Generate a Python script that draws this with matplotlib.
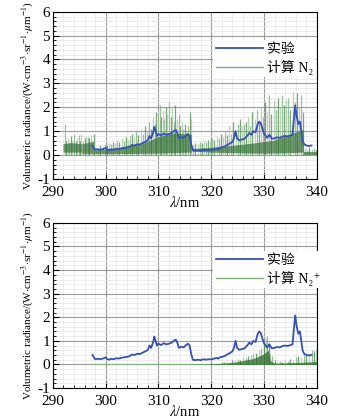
import matplotlib
matplotlib.use("Agg")
import matplotlib.pyplot as plt
from matplotlib.ticker import MultipleLocator
import numpy as np

plt.rcParams["font.family"] = ["Liberation Serif", "Noto Sans CJK SC", "DejaVu Serif"]
plt.rcParams["mathtext.fontset"] = "stix"
plt.rcParams["axes.unicode_minus"] = False

BLUE = "#3451b5"
GREEN_LT = "#7fae7f"
GREEN_MD = "#4d8a4d"
GREEN_DK = "#2a6a2c"

# experimental spectrum (same in both panels)
exp_pts = [
    (297.5, 0.40), (297.7, 0.32), (298.0, 0.22), (298.5, 0.24), (299.0, 0.22),
    (299.5, 0.25), (300.0, 0.30), (300.3, 0.22), (300.7, 0.20), (301.0, 0.24),
    (301.5, 0.22), (302.0, 0.26), (302.5, 0.25), (303.0, 0.28), (303.5, 0.30),
    (304.0, 0.32), (304.5, 0.35), (305.0, 0.42), (305.5, 0.40), (306.0, 0.45),
    (306.5, 0.44), (307.0, 0.50), (307.5, 0.55), (308.0, 0.62), (308.3, 0.80),
    (308.6, 0.70), (309.0, 0.95), (309.2, 1.18), (309.4, 1.05), (309.7, 0.80),
    (310.0, 0.88), (310.5, 0.82), (311.0, 0.90), (311.5, 0.85), (312.0, 0.88),
    (312.5, 0.92), (313.0, 1.02), (313.3, 1.05), (313.6, 0.90), (313.9, 0.70),
    (314.3, 0.75), (314.8, 0.72), (315.2, 0.82), (315.6, 0.88), (315.9, 0.80),
    (316.2, 0.45), (316.5, 0.20), (317.0, 0.18), (317.5, 0.20), (318.0, 0.18),
    (318.5, 0.22), (319.0, 0.20), (319.5, 0.22), (320.0, 0.21), (320.5, 0.24),
    (321.0, 0.28), (321.3, 0.24), (321.6, 0.30), (322.0, 0.32), (322.5, 0.35),
    (323.0, 0.42), (323.5, 0.48), (324.0, 0.55), (324.3, 0.70), (324.6, 1.00),
    (324.9, 0.70), (325.3, 0.62), (325.8, 0.65), (326.3, 0.68), (326.8, 0.80),
    (327.2, 0.92), (327.6, 0.85), (328.0, 1.00), (328.4, 0.95), (328.8, 1.30),
    (329.1, 1.40), (329.4, 1.32), (329.7, 1.10), (330.0, 0.90), (330.3, 0.80),
    (330.6, 0.72), (331.0, 0.85), (331.5, 0.68), (332.0, 0.70), (332.5, 0.74),
    (333.0, 0.72), (333.5, 0.78), (334.0, 0.80), (334.5, 0.78), (335.0, 0.82),
    (335.4, 0.85), (335.7, 1.60), (335.9, 2.08), (336.2, 1.60), (336.5, 1.30),
    (336.8, 1.40), (337.0, 1.10), (337.3, 0.60), (337.6, 0.45), (338.0, 0.40),
    (338.5, 0.38), (339.0, 0.40),
]

# calculated N2 : dense band (x, lower, upper), NaN = gap between bands
n2_band_x = [292.0, 293.5, 295.45, np.nan, 295.55, 297.75, np.nan, 297.85, 300.0,
             303.0, 307.0, 310.0, 313.0, 316.3, np.nan, 316.4, 320.0, 324.0,
             328.0, 332.0, 335.0, 337.5, np.nan, 337.6, 340.0]
n2_band_lo = [0.10, 0.10, 0.10, np.nan, 0.05, 0.05, np.nan, 0.04, 0.04,
              0.04, 0.05, 0.06, 0.08, 0.10, np.nan, 0.15, 0.10, 0.08,
              0.06, 0.06, 0.08, 0.10, np.nan, 0.02, 0.02]
n2_band_hi = [0.45, 0.50, 0.45, np.nan, 0.45, 0.55, np.nan, 0.18, 0.22,
              0.30, 0.45, 0.75, 0.90, 0.85, np.nan, 0.25, 0.30, 0.38,
              0.48, 0.60, 0.85, 1.05, np.nan, 0.12, 0.12]

# calculated N2 : individual lines (wavelength, peak)
n2_lines = [
    (292.2, 1.30), (292.5, 0.60), (292.8, 0.70), (293.1, 0.50), (293.4, 0.80),
    (293.7, 0.60), (294.0, 0.90), (294.3, 0.60), (294.6, 0.70), (294.9, 0.85),
    (295.2, 0.60), (295.4, 0.90),
    (295.7, 0.60), (296.0, 0.70), (296.3, 0.80), (296.6, 0.75), (296.9, 0.70),
    (297.2, 0.85), (297.5, 0.60), (297.7, 0.90),
    (298.2, 0.35), (298.6, 0.30), (299.0, 0.40), (299.4, 0.35), (299.8, 0.45),
    (300.2, 0.40), (300.6, 0.50), (301.0, 0.45), (301.4, 0.55), (301.8, 0.50),
    (302.2, 0.60), (302.6, 0.55), (303.0, 0.70), (303.4, 0.60), (303.8, 0.75),
    (304.2, 0.65), (304.6, 0.80), (305.0, 0.90), (305.4, 0.75), (305.8, 1.00),
    (306.2, 0.85), (306.6, 1.10), (307.0, 0.90), (307.4, 1.20), (307.8, 1.00),
    (308.2, 1.40), (308.6, 1.10), (309.0, 1.60), (309.3, 1.30), (309.6, 1.80),
    (309.9, 1.40), (310.2, 2.10), (310.5, 1.60), (310.8, 1.90), (311.1, 1.50),
    (311.4, 2.00), (311.7, 1.70), (312.0, 2.20), (312.3, 1.60), (312.6, 2.00),
    (312.9, 1.40), (313.2, 2.10), (313.5, 1.50), (313.8, 1.70), (314.1, 1.20),
    (314.4, 1.40), (314.7, 1.10), (315.0, 1.30), (315.3, 1.00), (315.6, 1.20),
    (315.9, 1.80), (316.2, 1.50),
    (316.6, 0.40), (317.0, 0.50), (317.4, 0.45), (317.8, 0.55), (318.2, 0.50),
    (318.6, 0.60), (319.0, 0.55), (319.4, 0.65), (319.8, 0.60), (320.2, 0.70),
    (320.6, 0.65), (321.0, 0.80), (321.4, 0.70), (321.8, 0.90), (322.2, 0.75),
    (322.6, 1.00), (323.0, 0.85), (323.4, 1.20), (323.8, 0.90), (324.2, 1.40),
    (324.6, 1.00), (325.0, 1.30), (325.4, 1.50), (325.8, 1.20), (326.2, 1.30),
    (326.6, 1.40), (327.0, 1.60), (327.4, 1.20), (327.8, 1.80), (328.2, 1.50),
    (328.6, 1.90), (329.0, 1.40), (329.4, 2.00), (329.8, 1.60), (330.2, 2.20),
    (330.6, 1.80), (331.0, 2.50), (331.4, 1.70), (331.8, 2.30), (332.2, 1.90),
    (332.6, 2.40), (333.0, 2.00), (333.4, 2.50), (333.8, 2.10), (334.2, 2.30),
    (334.6, 2.40), (335.0, 1.90), (335.4, 2.70), (335.8, 2.20), (336.2, 2.60),
    (336.6, 2.00), (337.0, 2.50), (337.3, 1.80),
    (337.8, 0.30), (338.2, 0.20), (338.6, 0.35), (339.0, 0.25), (339.4, 0.30),
    (339.8, 0.20),
]

# calculated N2+ : band envelope and individual lines
n2p_band_x = [290.0, 316.0, 320.0, 324.0, 328.0, 330.0, 330.8, 331.2, 332.0, 336.0, 340.0]
n2p_band_hi = [0.0, 0.0, 0.02, 0.08, 0.25, 0.45, 0.60, 0.15, 0.05, 0.08, 0.12]
n2p_lines = [
    (318.0, 0.02), (320.0, 0.04), (321.0, 0.06), (322.0, 0.10), (322.5, 0.12),
    (323.0, 0.15), (323.5, 0.12), (324.0, 0.20), (324.5, 0.18), (325.0, 0.25),
    (325.5, 0.20), (326.0, 0.30), (326.5, 0.28), (327.0, 0.35), (327.5, 0.40),
    (328.0, 0.45), (328.5, 0.50), (329.0, 0.60), (329.5, 0.70), (330.0, 0.90),
    (330.3, 1.10), (330.6, 1.20), (330.9, 0.90), (331.2, 0.50), (331.6, 0.35),
    (332.0, 0.20), (332.5, 0.10), (333.0, 0.15), (333.5, 0.10), (334.0, 0.20),
    (334.5, 0.15), (335.0, 0.25), (335.5, 0.20), (336.0, 0.30), (336.5, 0.35),
    (337.0, 0.30), (337.5, 0.40), (338.0, 0.50), (338.5, 0.45), (339.0, 0.60),
    (339.5, 0.55), (339.9, 0.65),
]

exp_wl, exp_val = zip(*exp_pts)
shades = [GREEN_LT, GREEN_MD, "#a3c8a3"]


def style_axes(ax):
    ax.set_xlim(290, 340)
    ax.set_ylim(-1, 6)
    ax.xaxis.set_major_locator(MultipleLocator(10))
    ax.xaxis.set_minor_locator(MultipleLocator(2))
    ax.yaxis.set_major_locator(MultipleLocator(1))
    ax.yaxis.set_minor_locator(MultipleLocator(0.2))
    ax.grid(which="major", color="#9a9a9a", lw=0.8, zorder=0)
    ax.grid(which="minor", color="#e6e6e6", lw=0.5, zorder=0)
    ax.set_axisbelow(True)
    ax.tick_params(which="both", direction="in", top=False, right=False, labelsize=11, pad=2)
    ax.tick_params(axis="x", pad=5)
    ax.tick_params(which="major", length=4)
    ax.tick_params(which="minor", length=2.5)
    ax.set_xlabel(r"$\lambda$/nm", fontsize=10.5, labelpad=-3)
    ax.set_ylabel(r"Volumetric radiance/(W$\cdot$cm$^{-3}$$\cdot$sr$^{-1}$$\cdot$$\mu$m$^{-1}$)",
                  fontsize=8, labelpad=2)


fig = plt.figure(figsize=(3.6, 4.19), dpi=100)
ax1 = fig.add_axes([0.147, 0.573, 0.733, 0.399])
ax2 = fig.add_axes([0.147, 0.074, 0.733, 0.394])

# top panel: N2
for i, (w, h) in enumerate(n2_lines):
    ax1.vlines(w, 0.02, h, color=shades[i % 3], lw=0.9, alpha=0.75, zorder=2)
ax1.fill_between(n2_band_x, n2_band_lo, n2_band_hi, color=GREEN_DK, alpha=0.65, lw=0, zorder=3)
ax1.plot(exp_wl, exp_val, color=BLUE, lw=1.3, zorder=5, label="实验")
ax1.plot([], [], color=GREEN_LT, lw=1.0, label="计算 N₂")

# bottom panel: N2+
ax2.plot([297.0, 340.0], [0.0, 0.0], color=GREEN_LT, lw=0.8, zorder=2)
ax2.fill_between(n2p_band_x, 0, n2p_band_hi, color=GREEN_DK, alpha=0.75, lw=0, zorder=3)
for i, (w, h) in enumerate(n2p_lines):
    ax2.vlines(w, 0, h, color=shades[i % 3], lw=0.9, alpha=0.8, zorder=2)
ax2.plot(exp_wl, exp_val, color=BLUE, lw=1.3, zorder=5, label="实验")
ax2.plot([], [], color=GREEN_LT, lw=1.0, label="计算 N₂⁺")

for ax in (ax1, ax2):
    style_axes(ax)
    ax.legend(loc="upper left", bbox_to_anchor=(0.58, 0.87), fontsize=10,
              frameon=True, facecolor="white", edgecolor="none", framealpha=1,
              handlelength=3.4, labelspacing=0.25, borderpad=0.2, handletextpad=0.3)

fig.savefig("out.png", dpi=100, facecolor="white")
